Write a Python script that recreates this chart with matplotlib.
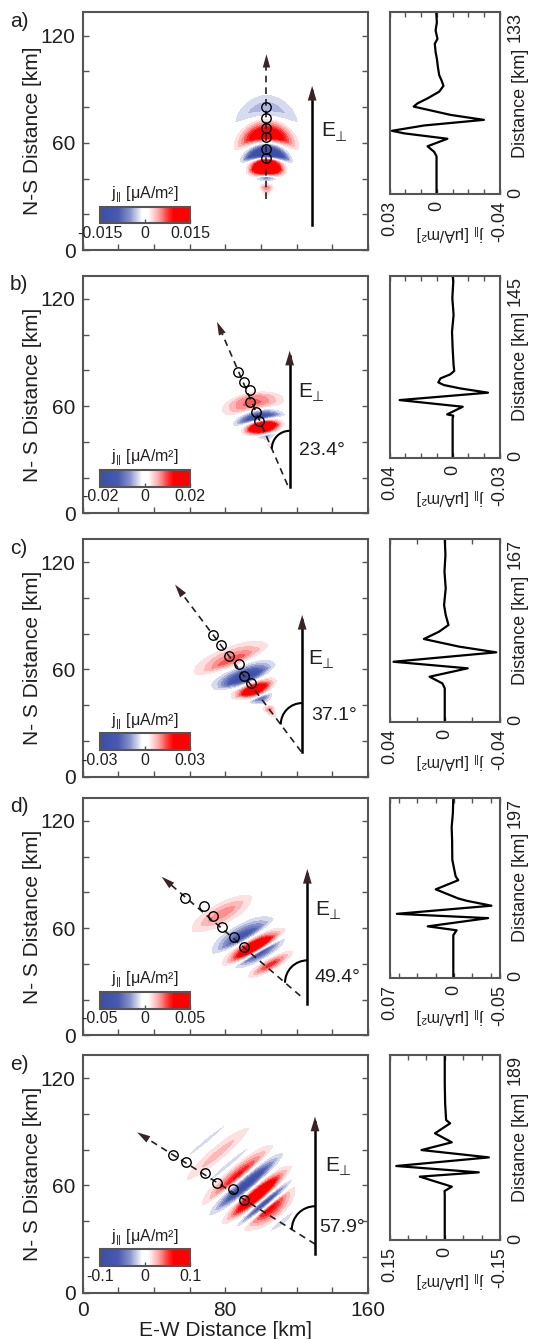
import numpy as np
import matplotlib
matplotlib.use("Agg")
import matplotlib.pyplot as plt
from matplotlib.colors import LinearSegmentedColormap, Normalize
from matplotlib.cm import ScalarMappable
from matplotlib.patches import Arc

plt.rcParams['font.family'] = ['Liberation Sans', 'DejaVu Sans']
plt.rcParams['mathtext.fontset'] = 'custom'
plt.rcParams['mathtext.rm'] = 'Liberation Sans'
plt.rcParams['mathtext.it'] = 'Liberation Sans:italic'
plt.rcParams['mathtext.bf'] = 'Liberation Sans:bold'

# ---------------------------------------------------------------- data
panel_letters = ['a)', 'b)', 'c)', 'd)', 'e)']
ns_labels = ['N-S Distance [km]', 'N- S Distance [km]', 'N- S Distance [km]',
             'N- S Distance [km]', 'N- S Distance [km]']
track_angle_deg = [0.0, 23.4, 37.1, 49.4, 57.9]
angle_labels = [None, '23.4°', '37.1°', '49.4°', '57.9°']
jpar_limit = [0.015, 0.02, 0.03, 0.05, 0.1]
jpar_tick_labels = [['-0.015', '0', '0.015'], ['-0.02', '0', '0.02'],
                    ['-0.03', '0', '0.03'], ['-0.05', '0', '0.05'],
                    ['-0.1', '0', '0.1']]
profile_xlim = [(0.03, -0.04), (0.04, -0.03), (0.04, -0.04), (0.07, -0.05), (0.15, -0.15)]
profile_xlabels = [['0.03', '0', '-0.04'], ['0.04', '0', '-0.03'], ['0.04', '0', '-0.04'],
                   ['0.07', '0', '-0.05'], ['0.15', '0', '-0.15']]
profile_tick_step = [0.01, 0.01, 0.02, 0.02, 0.05]
track_length = [133, 145, 167, 197, 189]

# j_parallel along the track: distance [km], value [uA/m^2]
prof_a_dist = [0, 27.8, 31.0, 35.1, 40.6, 44.5, 46.4, 50.3, 54.4, 58.0, 64.1, 66.5, 70.1,
               75.0, 79.3, 83.4, 87.0, 91.9, 99.1, 104.0, 110.0, 113.6, 119.7, 125.7, 133]
prof_a_val = [0.0002, 0.0002, 0.0017, 0.0059, -0.0067, 0.0205, 0.0285, 0.0080, -0.0298,
              -0.0088, 0.0147, 0.0122, 0.0059, -0.0015, -0.0042, -0.0029, -0.0015, -0.0008,
              0.0000, 0.0008, 0.0013, -0.0004, 0.0008, 0.0000, 0.0004]

prof_b_dist = [0, 31.3, 33.5, 34.5, 40.6, 45.9, 51.8, 55.2, 57.9, 60.0, 63.2, 66.4, 69.1,
               73.8, 87.1, 100.4, 113.7, 127.0, 140.2, 145]
prof_b_val = [0.0, 0.0, -0.0004, 0.0035, -0.0064, 0.0336, -0.0224, -0.0048, 0.0056, 0.0091,
              0.0077, 0.0015, -0.0010, -0.0006, 0.0000, 0.0004, -0.0006, 0.0002, -0.0004, 0.0]

prof_c_dist = [0, 30.5, 35.0, 41.1, 48.8, 54.8, 63.4, 68.6, 75.6, 82.3, 88.4, 97.5, 106.6,
               121.9, 137.1, 152.4, 167]
prof_c_val = [0.0, 0.0, 0.0017, 0.0110, -0.0166, 0.0371, -0.0373, -0.0105, 0.0151, 0.0041,
              -0.0027, -0.0007, 0.0005, -0.0007, 0.0002, -0.0005, 0.0]

prof_d_dist = [0, 46.6, 51.9, 56.2, 65.2, 69.9, 78.8, 84.2, 86.7, 96.7, 106.7, 111.0, 129.0,
               150.0, 164.8, 180.0, 197]
prof_d_val = [0.0007, 0.0007, -0.0029, 0.0285, -0.0371, 0.0620, -0.0407, -0.0137, -0.0047,
              0.0198, -0.0047, -0.0018, 0.0018, 0.0020, 0.0025, 0.0012, 0.0007]

prof_e_dist = [0, 46.0, 50.0, 54.5, 64.7, 69.1, 75.6, 84.4, 91.9, 99.8, 109.0, 119.2, 122.6,
               140.0, 160.0, 189]
prof_e_val = [0.0, 0.0, 0.0005, -0.0192, 0.0677, -0.0924, 0.1318, -0.1199, 0.0631, -0.0192,
              0.0265, -0.0146, -0.0037, -0.0010, 0.0000, 0.0]

profile_dist = [prof_a_dist, prof_b_dist, prof_c_dist, prof_d_dist, prof_e_dist]
profile_val = [prof_a_val, prof_b_val, prof_c_val, prof_d_val, prof_e_val]

# sampling points (open circles) along each track [km]
circ_a_x = [103.1, 103.1, 103.1, 103.1, 103.1, 103.1]
circ_a_y = [80.2, 73.7, 68.1, 63.0, 56.5, 51.3]
circ_b_x = [86.9, 90.4, 94.0, 93.6, 97.2, 99.1]
circ_b_y = [79.3, 73.7, 69.0, 62.2, 56.9, 51.7]
circ_c_x = [73.0, 77.8, 82.0, 87.9, 90.5, 94.3]
circ_c_y = [79.3, 73.7, 67.7, 63.1, 56.6, 52.2]
circ_d_x = [57.7, 67.9, 73.3, 78.2, 85.0, 90.7]
circ_d_y = [76.6, 72.6, 67.0, 60.8, 55.3, 49.7]
circ_e_x = [50.7, 58.2, 68.9, 75.4, 84.1, 90.6]
circ_e_y = [77.0, 73.2, 67.2, 61.4, 58.3, 52.1]
circ_x = [circ_a_x, circ_b_x, circ_c_x, circ_d_x, circ_e_x]
circ_y = [circ_a_y, circ_b_y, circ_c_y, circ_d_y, circ_e_y]

# track origin (distance 0) and dashed-arrow extent along the track [km]
track_x0 = [103.1, 119.0, 129.4, 145.8, 157.1]
track_y0 = [0.0, 6.4, 5.0, 1.8, 10.4]
dash_s = [(28.4, 109.5), (10.3, 109.8), (11.3, 128.5), (31.3, 133.6), (31.6, 149.3)]

# E-perp arrow
efield_x = [128.7, 116.1, 123.1, 126.0, 130.3]
efield_y = [(14.0, 91.8), (14.9, 91.0), (14.0, 90.5), (17.5, 93.1), (21.7, 98.5)]
elabel_xy = [(133.9, 66.7), (120.7, 68.1), (126.4, 66.2), (130.2, 70.7), (135.8, 71.1)]
arc_radius = [0, 10.0, 12.0, 12.5, 13.0]
angle_label_xy = [None, (121.6, 35.4), (128.3, 34.5), (130.2, 32.5), (132.9, 36.6)]

# wave-packet shape across the track
stripe_angle_deg = [0.0, 12.0, 22.0, 30.0, 40.0]
env_center = [50.0, 50.0, 60.0, 70.0, 75.0]
env_sigma = [6.5, 7.0, 7.5, 9.0, 11.0]
env_growth = [0.28, 0.35, 0.30, 0.10, 0.15]
env_shift = [0.0, 0.0, 0.0, 4.0, 6.0]
env_shift_growth = [0.0, 0.0, 0.0, 0.10, 0.25]
stripe_bend = [0.025, 0.01, 0.0, 0.0, 0.0]

# ---------------------------------------------------------------- layout (pixels)
W, H = 534, 1339
main_left, main_width, main_height = 82.5, 285.5, 237.7
prof_left, prof_width = 389.5, 110.5
panel_tops = [12.3, 275.7, 539.0, 797.7, 1055.0]
prof_heights = [182.0, 182.0, 182.7, 180.0, 185.0]

SPINE = '#555555'
TXT = '#231f20'
HEAD = '#3b2424'

cmap = LinearSegmentedColormap.from_list('jpar', [
    (0.00, (0.23, 0.31, 0.65)), (0.20, (0.28, 0.35, 0.69)), (0.33, (0.52, 0.57, 0.80)),
    (0.44, (0.90, 0.91, 0.96)), (0.47, (1.0, 1.0, 1.0)), (0.53, (1.0, 1.0, 1.0)),
    (0.57, (1.0, 0.90, 0.90)), (0.66, (1.0, 0.62, 0.62)), (0.76, (1.0, 0.18, 0.18)),
    (0.82, (1.0, 0.0, 0.0)), (1.00, (1.0, 0.0, 0.0))])

fig = plt.figure(figsize=(W / 100, H / 100), dpi=100)


def px_axes(left, top, width, height):
    return fig.add_axes([left / W, 1 - (top + height) / H, width / W, height / H])


def style_spines(ax):
    for sp in ax.spines.values():
        sp.set_color(SPINE)
        sp.set_linewidth(1.5)


def jpar_field(k, X, Y):
    th = np.deg2rad(track_angle_deg[k])
    ph = np.deg2rad(stripe_angle_deg[k])
    ux, uy = -np.sin(th), np.cos(th)
    kx, ky = -np.sin(ph), np.cos(ph)
    mx, my = np.cos(ph), np.sin(ph)
    dx = X - track_x0[k]
    dy = Y - track_y0[k]
    st = (dx * kx + dy * ky) / np.cos(th - ph)
    p = (dx - st * ux) * mx + (dy - st * uy) * my
    sig = np.clip(env_sigma[k] + env_growth[k] * (st - env_center[k]), 1.5, 22.0)
    p0 = env_shift[k] + env_shift_growth[k] * (st - env_center[k])
    seff = st + stripe_bend[k] * (p - p0) ** 2
    prof = np.interp(seff, profile_dist[k], profile_val[k], left=0.0, right=0.0)
    return prof * np.exp(-(p - p0) ** 2 / (2 * sig ** 2))


def arrow_head(ax, tip, direction, length, half_width, scale=20):
    tx, ty = tip
    ddx, ddy = direction
    ax.annotate('', xy=(tx, ty), xytext=(tx - ddx * length, ty - ddy * length),
                arrowprops=dict(arrowstyle='-|>,head_length=%.3f,head_width=%.3f'
                                % (0.5, half_width), mutation_scale=scale,
                                color=HEAD, lw=0.01, shrinkA=0, shrinkB=0), zorder=6)


xg = np.linspace(0, 160, 321)
yg = np.linspace(0, 133, 267)
XG, YG = np.meshgrid(xg, yg)

for k in range(5):
    top = panel_tops[k]
    ax = px_axes(main_left, top, main_width, main_height)
    c = jpar_limit[k]
    F = jpar_field(k, XG, YG)
    ax.contourf(xg, yg, F, levels=np.linspace(-c, c, 21), cmap=cmap, extend='both', zorder=1)
    ax.set_xlim(0, 160)
    ax.set_ylim(0, 133)

    th = np.deg2rad(track_angle_deg[k])
    ux, uy = -np.sin(th), np.cos(th)
    x0, y0 = track_x0[k], track_y0[k]
    s0, s1 = dash_s[k]
    ax.plot([x0 + s0 * ux, x0 + (s1 - 3) * ux], [y0 + s0 * uy, y0 + (s1 - 3) * uy],
            color='#222222', lw=1.2, ls=(0, (4, 3)), zorder=4)
    arrow_head(ax, (x0 + s1 * ux, y0 + s1 * uy), (ux, uy), 6.0, 0.14, 19)

    ax.plot(circ_x[k], circ_y[k], 'o', mfc='none', mec='black', ms=6.8, mew=1.0, zorder=5)

    ex = efield_x[k]
    ey0, ey1 = efield_y[k]
    ax.plot([ex, ex], [ey0, ey1 - 3], color='black', lw=1.8, zorder=4)
    arrow_head(ax, (ex, ey1), (0, 1), 6.0, 0.15, 21)
    ex_l, ey_l = elabel_xy[k]
    ax.text(ex_l, ey_l, 'E', fontsize=15, color=TXT, ha='left', va='center', zorder=6)
    ax.text(ex_l + 7.6, ey_l - 3.2, '⊥', fontsize=10, color=TXT, ha='left', va='center',
            zorder=6)

    if arc_radius[k] > 0:
        r = arc_radius[k]
        s_arc = (x0 - (ex - r)) / np.sin(th)
        yc = y0 + s_arc * np.cos(th)
        ax.add_patch(Arc((ex, yc), 2 * r, 2 * r, theta1=90, theta2=180,
                         color='black', lw=1.5, zorder=5))
        ax.text(angle_label_xy[k][0], angle_label_xy[k][1], angle_labels[k], fontsize=14,
                color=TXT, ha='left', va='center', zorder=6)

    ax.set_xticks(np.arange(0, 161, 20))
    ax.set_yticks(np.arange(0, 121, 20))
    ax.set_yticklabels(['0', '', '', '60', '', '', '120'])
    if k == 4:
        ax.set_xticklabels(['0', '', '', '', '80', '', '', '', '160'])
        ax.set_xlabel('E-W Distance [km]', fontsize=15, color=TXT)
        ax.xaxis.set_label_coords(0.5, -0.118)
    else:
        ax.set_xticklabels([])
    ax.tick_params(direction='in', length=4, width=1, colors=SPINE, labelcolor=TXT,
                   labelsize=15, right=True, top=False, pad=5)
    ax.tick_params(axis='x', pad=6)
    ax.set_ylabel(ns_labels[k], fontsize=15, color=TXT)
    ax.yaxis.set_label_coords(-0.142, 0.5)
    style_spines(ax)

    fig.text(10 / W, 1 - (top + 9) / H, panel_letters[k], fontsize=15, color=TXT,
             ha='left', va='center')

    # colour bar inside the map
    bottom_px = top + main_height
    cax = px_axes(main_left + 17.5, bottom_px - 43.3, 90, 16.6)
    sm = ScalarMappable(norm=Normalize(-c, c), cmap=cmap)
    cb = fig.colorbar(sm, cax=cax, orientation='horizontal', ticks=[-c, 0, c])
    cb.ax.set_xticklabels(jpar_tick_labels[k])
    cb.ax.tick_params(labelsize=11.5, length=3, width=1, direction='in', colors=SPINE,
                      labelcolor=TXT, pad=2)
    cb.outline.set_edgecolor(SPINE)
    cb.outline.set_linewidth(1.5)
    cax.text(0.5, 1.72, r'$\mathrm{j}_{||}$ [μA/m²]', transform=cax.transAxes,
             fontsize=11.5, color=TXT, ha='center', va='center')

    # along-track profile
    pax = px_axes(prof_left, top, prof_width, prof_heights[k])
    pax.plot(profile_val[k], profile_dist[k], color='black', lw=1.6)
    vmax, vmin = profile_xlim[k]
    pax.set_xlim(vmax, vmin)
    pax.set_ylim(0, track_length[k])
    step = profile_tick_step[k]
    ticks = list(np.arange(np.ceil(vmin / step - 1e-6), np.floor(vmax / step + 1e-6) + 1) * step)
    for lim in (vmin, vmax):
        if min(abs(t - lim) for t in ticks) > 1e-9:
            ticks.append(lim)
    ticks = sorted(ticks)
    pax.set_xticks(ticks)
    labs = []
    for t in ticks:
        if abs(t - vmax) < 1e-9:
            labs.append(profile_xlabels[k][0])
        elif abs(t) < 1e-9:
            labs.append(profile_xlabels[k][1])
        elif abs(t - vmin) < 1e-9:
            labs.append(profile_xlabels[k][2])
        else:
            labs.append('')
    pax.set_xticklabels(labs, rotation=90)
    pax.tick_params(axis='x', direction='in', length=3.5, width=1, colors=SPINE,
                    labelcolor=TXT, labelsize=13, top=True, pad=5)
    pax.yaxis.tick_right()
    pax.set_yticks([0, track_length[k]])
    pax.set_yticklabels(['0', str(track_length[k])], rotation=90)
    pax.get_yticklabels()[1].set_va('top')
    pax.tick_params(axis='y', length=0, labelsize=13, labelcolor=TXT, pad=5)
    pax.text(1.19, 0.5, 'Distance [km]', transform=pax.transAxes, rotation=90,
             fontsize=13, color=TXT, ha='center', va='center')
    pax.text(0.55, -0.21, r'$\mathrm{j}_{||}$ [μA/m²]', transform=pax.transAxes,
             rotation=180, fontsize=11.5, color=TXT, ha='center', va='center')
    style_spines(pax)

fig.savefig('out.png', dpi=100)
